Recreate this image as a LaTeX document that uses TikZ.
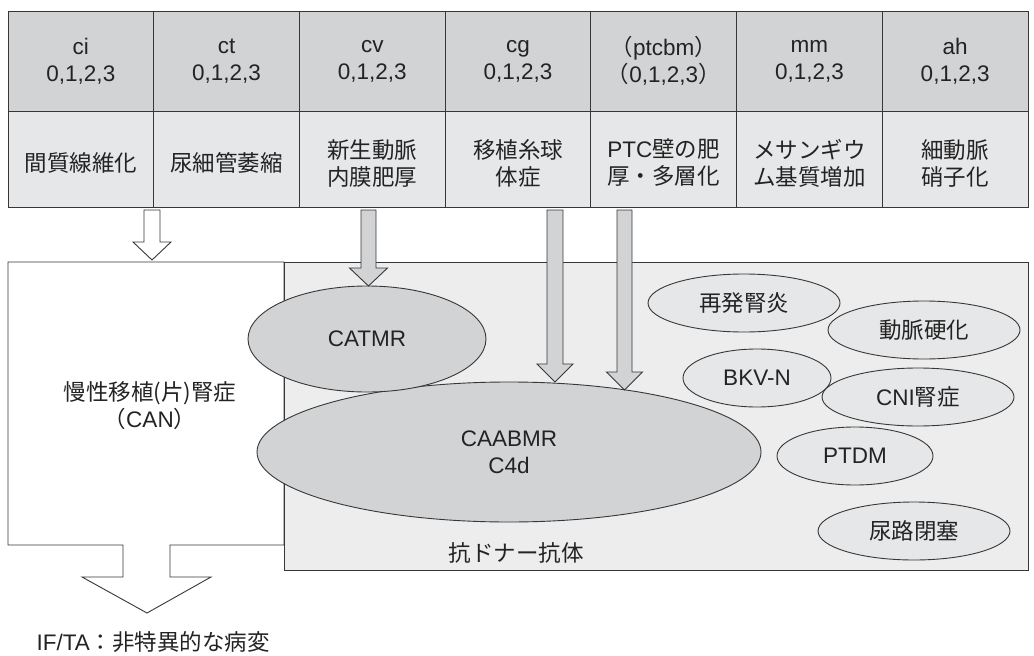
\documentclass[tikz,border=0pt]{standalone}
\usepackage{fontspec}
\setmainfont{Liberation Sans}
\newfontfamily\jp{Noto Sans CJK JP}
\usetikzlibrary{shapes.geometric}
\definecolor{hdr}{RGB}{210,211,213}
\definecolor{low}{RGB}{230,231,232}
\definecolor{bgbox}{RGB}{237,237,237}
\definecolor{ln}{RGB}{55,55,55}
\definecolor{tx}{RGB}{35,35,35}
\newcommand\blkarr[7]{%
  \draw[blk, fill=#7] ({#1-#5},#2) -- ({#1+#5},#2) -- ({#1+#5},#3) -- ({#1+#6},#3)
    -- (#1,#4) -- ({#1-#6},#3) -- ({#1-#5},#3) -- cycle;}
\begin{document}
\begin{tikzpicture}[x=1pt,y=-1pt,
  every node/.style={font=\fontsize{22.5}{27}\selectfont, text=tx, align=center},
  hcell/.style={draw=ln, line width=1pt, fill=hdr, minimum width=145.71pt, minimum height=100pt, inner sep=0pt},
  lcell/.style={draw=ln, line width=1pt, fill=low, minimum width=145.71pt, minimum height=96pt, inner sep=0pt},
  dark/.style={ellipse, draw=ln, line width=0.9pt, fill=hdr, inner sep=0pt},
  light/.style={ellipse, draw=ln, line width=0.9pt, fill=low, inner sep=0pt},
  blk/.style={draw=ln, line width=0.9pt, line join=miter}]
\useasboundingbox (0,0) rectangle (1034,656);
% table header row
\node[hcell] (h1) at (80.86,61) {ci\\0,1,2,3};
\node[hcell] (h2) at (226.57,61) {ct\\0,1,2,3};
\node[hcell] (h3) at (372.29,61) {cv\\0,1,2,3};
\node[hcell] (h4) at (518.00,61) {cg\\0,1,2,3};
\node[hcell] (h5) at (663.71,61) {{\jp （}ptcbm{\jp ）}\\{\jp （}0,1,2,3{\jp ）}};
\node[hcell] (h6) at (809.43,61) {mm\\0,1,2,3};
\node[hcell] (h7) at (955.14,61) {ah\\0,1,2,3};
% table lower row
\node[lcell] (l1) at (80.86,159) {};
\node[lcell] (l2) at (226.57,159) {};
\node[lcell] (l3) at (372.29,159) {};
\node[lcell] (l4) at (518.00,159) {};
\node[lcell] (l5) at (663.71,159) {};
\node[lcell] (l6) at (809.43,159) {};
\node[lcell] (l7) at (955.14,159) {};
\node (t1) at ([yshift=-4pt]l1.center) {\jp 間質線維化};
\node (t2) at ([yshift=-4pt]l2.center) {\jp 尿細管萎縮};
\node (t3) at ([yshift=-4pt]l3.center) {\jp 新生動脈\\\jp 内膜肥厚};
\node (t4) at ([yshift=-4pt]l4.center) {\jp 移植糸球\\\jp 体症};
\node (t5) at ([yshift=-4pt]l5.center) {PTC{\jp 壁の肥}\\\jp 厚・多層化};
\node (t6) at ([yshift=-4pt]l6.center) {\jp メサンギウ\\\jp ム基質増加};
\node (t7) at ([yshift=-4pt]l7.center) {\jp 細動脈\\\jp 硝子化};
% CAN box with outgoing arrow
\draw[blk, fill=white] (8,262) -- (284,262) -- (284,545) -- (170,545) -- (170,577)
  -- (211,577) -- (147,613) -- (82,577) -- (123,577) -- (123,545) -- (8,545) -- cycle;
% anti-donor antibody box
\node[draw=ln, line width=1pt, fill=bgbox, minimum width=744pt, minimum height=308pt,
  inner sep=0pt, anchor=north west] (abox) at (284,262) {};
% ellipses
\node[dark, minimum width=504pt, minimum height=140pt] (caabmr) at (509,452) {CAABMR\\C4d};
\node[dark, minimum width=238pt, minimum height=106pt] (catmr) at (367,339) {CATMR};
\node[light, minimum width=192pt, minimum height=58pt] (rec) at (744,303) {\jp 再発腎炎};
\node[light, minimum width=192pt, minimum height=58pt] (art) at (924,330) {\jp 動脈硬化};
\node[light, minimum width=148pt, minimum height=58pt] (bkv) at (757,378) {BKV-N};
\node[light, minimum width=192pt, minimum height=58pt] (cni) at (918,397) {CNI{\jp 腎症}};
\node[light, minimum width=156pt, minimum height=58pt] (ptdm) at (855,456) {PTDM};
\node[light, minimum width=192pt, minimum height=58pt] (uro) at (914,531) {\jp 尿路閉塞};
% block arrows
\blkarr{152}{210}{242}{260}{8}{19}{white}
\blkarr{368.5}{210}{268}{286}{7.5}{19}{hdr}
\blkarr{555}{210}{364}{382}{8}{18}{hdr}
\blkarr{624.5}{210}{372}{390}{7.5}{18}{hdr}
% labels
\node (can) at (150,406) {{\jp 慢性移植(片)腎症}\\{\jp （}CAN{\jp ）}};
\node (adab) at (516,553) {\jp 抗ドナー抗体};
\node[anchor=west] (ifta) at (33,642) {IF/TA{\jp ：非特異的な病変}};
\end{tikzpicture}
\end{document}
